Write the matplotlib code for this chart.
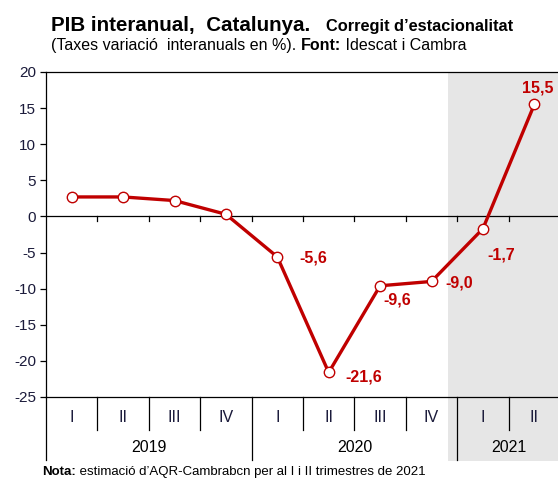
import matplotlib.pyplot as plt
from matplotlib.patches import Rectangle

plt.rcParams['font.family'] = ['Liberation Sans', 'DejaVu Sans']
plt.rcParams['axes.unicode_minus'] = False

quarters = ['I', 'II', 'III', 'IV', 'I', 'II', 'III', 'IV', 'I', 'II']
years = ['2019', '2020', '2021']
year_spans = [(0, 4), (4, 8), (8, 10)]
pib = [2.7, 2.7, 2.2, 0.3, -5.6, -21.6, -9.6, -9.0, -1.7, 15.5]
labels = {4: '-5,6', 5: '-21,6', 6: '-9,6', 7: '-9,0', 8: '-1,7', 9: '15,5'}

RED = '#C00000'
NAVY = '#1a1a3a'

fig = plt.figure(figsize=(5.58, 4.8), dpi=100)
W, H = 558, 480
ax = fig.add_axes([46 / W, (H - 397) / H, 514 / W, 325 / H])

x = [i + 0.5 for i in range(len(pib))]
ax.set_xlim(0, 10)
ax.set_ylim(-25, 20)

# zona ombrejada 2021 (també sota l'eix)
ax.add_patch(Rectangle((7.82, -0.196), 10 - 7.82, 1.196,
                       transform=ax.get_xaxis_transform(), color='#E6E6E6',
                       clip_on=False, zorder=0, lw=0))

ax.plot(x, pib, color=RED, lw=2.4, marker='o', ms=7.5, mfc='white',
        mec=RED, mew=1.0, zorder=3)

# offsets in points (dx, dy)
offsets = {4: (16, -1), 5: (12, -3), 6: (2, -10), 7: (10, -1), 8: (3, -19), 9: (-9, 12)}
for i, txt in labels.items():
    dx, dy = offsets[i]
    ax.annotate(txt, (x[i], pib[i]), xytext=(dx, dy), textcoords='offset points',
                color=RED, fontsize=11.5, fontweight='bold', ha='left',
                va='center', zorder=4, annotation_clip=False)

# línia del zero amb marques
ax.axhline(0, color='black', lw=0.9, zorder=2)
for b in range(1, 10):
    ax.plot([b, b], [0, -0.6], color='black', lw=0.9, zorder=2)

for s in ['top', 'bottom', 'left']:
    ax.spines[s].set_linewidth(0.9)
ax.spines['right'].set_visible(False)

ax.set_yticks(range(-25, 21, 5))
ax.tick_params(axis='y', direction='out', length=4, width=0.9, labelsize=11,
               labelcolor=NAVY, pad=3)
ax.set_xticks([])

# categories sota l'eix
xt = ax.get_xaxis_transform()
for i, q in enumerate(quarters):
    ax.text(i + 0.5, -0.064, q, transform=xt, ha='center', va='center',
            fontsize=11.5, color=NAVY)
for b in range(0, 10):
    bottom = -0.194 if b in (0, 4, 8) else -0.10
    ax.plot([b, b], [0, bottom], transform=xt, color='black', lw=0.9, clip_on=False)
for yr, (a, b) in zip(years, year_spans):
    ax.text((a + b) / 2, -0.155, yr, transform=xt, ha='center', va='center',
            fontsize=11.5, color='black')

# títols
fig.text(51 / W, 1 - 31 / H, 'PIB interanual,  Catalunya.', fontsize=14.8,
         fontweight='bold', va='baseline', ha='left')
fig.text(326 / W, 1 - 31 / H, 'Corregit d\u2019estacionalitat', fontsize=11.8,
         fontweight='bold', va='baseline', ha='left')
t = fig.text(51 / W, 1 - 50 / H, '(Taxes variaci\u00f3  interanuals en %). ', fontsize=11.5,
             va='baseline', ha='left')
fig.canvas.draw()
r = fig.canvas.get_renderer()
bb = t.get_window_extent(r)
t2 = fig.text(bb.x1 / W, 1 - 50 / H, 'Font:', fontsize=11.5, fontweight='bold',
              va='baseline', ha='left')
bb2 = t2.get_window_extent(r)
fig.text(bb2.x1 / W, 1 - 50 / H, ' Idescat i Cambra', fontsize=11.5, va='baseline', ha='left')

n = fig.text(42 / W, 1 - 475 / H, 'Nota:', fontsize=9.5, fontweight='bold',
             va='baseline', ha='left')
bb3 = n.get_window_extent(r)
fig.text(bb3.x1 / W, 1 - 475 / H, ' estimaci\u00f3 d\u2019AQR-Cambrabcn per al I i II trimestres de 2021',
         fontsize=9.5, va='baseline', ha='left')

fig.savefig('out.png', dpi=100)
